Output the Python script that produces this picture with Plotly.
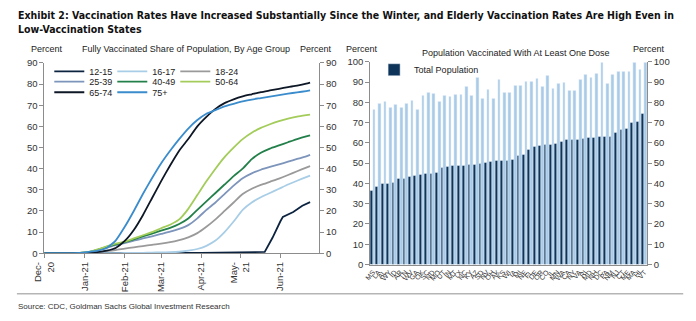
import plotly.graph_objects as go

# ---------------- Left chart data ----------------
dates = ["2020-12-01", "2020-12-14", "2020-12-21", "2020-12-28",
         "2021-01-04", "2021-01-11", "2021-01-18", "2021-01-25",
         "2021-02-01", "2021-02-08", "2021-02-15", "2021-02-22",
         "2021-03-01", "2021-03-08", "2021-03-15", "2021-03-22", "2021-03-29",
         "2021-04-05", "2021-04-12", "2021-04-19", "2021-04-26",
         "2021-05-03", "2021-05-10", "2021-05-17", "2021-05-24", "2021-05-31",
         "2021-06-07", "2021-06-14", "2021-06-21", "2021-06-24"]

age_16_17 = [0, 0, 0, 0, 0, 0, 0, 0, 0.1, 0.1, 0.2, 0.3, 0.4, 0.5, 0.7, 1.2, 2,
             3.5, 6, 10, 15, 20.5, 24, 26.5, 28.5, 30.5, 32.5, 34.3, 36, 36.7]
age_18_24 = [0, 0, 0, 0, 0.2, 0.6, 1, 1.5, 2.2, 2.8, 3.4, 4, 4.5, 5.2, 6.2, 7.5, 9.5,
             12.5, 16, 20, 24, 28, 30.5, 32.3, 33.8, 35.3, 37, 38.8, 40.5, 41.2]
age_25_39 = [0, 0, 0, 0.1, 0.5, 1.4, 2.6, 3.8, 4.8, 6, 7, 8, 9.1, 10.2, 11.5, 13.3, 16.5,
             20.5, 24, 28, 32, 35.5, 37.8, 39.5, 40.8, 42, 43.3, 44.6, 45.8, 46.5]
age_40_49 = [0, 0, 0, 0.1, 0.5, 1.6, 3, 4.2, 5.2, 6.5, 8, 9.3, 10.7, 12, 13.8, 16.4, 20.5,
             24.5, 28.5, 32.5, 36.5, 40, 44.5, 47.5, 49.5, 51, 52.5, 54, 55.3, 55.8]
age_50_64 = [0, 0, 0, 0.1, 0.6, 1.8, 3.2, 4.5, 5.5, 7, 8.5, 10, 11.8, 13.5, 16, 21, 27.5,
             34, 40, 45.5, 50, 54, 57, 59.3, 61, 62.5, 63.7, 64.6, 65.3, 65.6]
age_65_74 = [0, 0, 0, 0, 0.1, 0.5, 1.2, 2.5, 5.8, 11, 18, 26, 34, 41.5, 48.5, 54, 60,
             64.5, 68.3, 71, 72.8, 74.2, 75.2, 76.2, 77, 77.8, 78.6, 79.3, 80.2, 80.7]
age_75_plus = [0, 0, 0, 0.1, 0.6, 1.2, 2.5, 6, 12.5, 20, 28, 35.5, 42.5, 48.5, 54, 59, 63,
               66, 67.7, 69.5, 70.7, 71.8, 72.7, 73.4, 74.1, 74.8, 75.5, 76.1, 76.7, 77]

dates_12_15 = ["2020-12-01", "2021-04-01", "2021-05-20", "2021-05-26", "2021-06-01",
               "2021-06-03", "2021-06-11", "2021-06-18", "2021-06-24"]
age_12_15 = [0, 0.1, 0.6, 7.3, 15, 17.2, 19.5, 22.5, 24.2]

month_ticks = ["2020-12-01", "2021-01-01", "2021-02-01", "2021-03-01",
               "2021-04-01", "2021-05-01", "2021-06-01"]
month_labels = ["Dec-<br>20", "Jan-21", "Feb-21", "Mar-21", "Apr-21", "May-<br>21", "Jun-21"]

# ---------------- Right chart data ----------------
states = ["MS", "LA", "AL", "WY", "ID", "AR", "TN", "WV", "GA", "OK", "SC", "ND", "MO",
          "UT", "IN", "MT", "TX", "NC", "KY", "AZ", "SD", "NV", "OH", "AK", "KS", "WI",
          "IA", "MI", "NE", "FL", "DE", "OR", "CO", "IL", "MN", "WA", "CA", "NY", "VA",
          "RI", "MD", "NH", "DC", "PA", "NM", "NJ", "CT", "ME", "MA", "HI", "VT"]
elderly = [76.2, 79.4, 80.5, 77.5, 78.9, 77.5, 79.4, 81, 76.2, 83, 84.6, 84.1, 80.5,
           83, 82.5, 83.5, 83.5, 87.6, 83.3, 91.9, 81.7, 86, 81.9, 91.3, 84.8, 84.6,
           88.4, 88.1, 90.2, 90, 91.6, 87.6, 93.2, 86.5, 89, 89.8, 85.7, 85.7, 91.3,
           93.7, 92.1, 94.1, 99.7, 89.4, 93.7, 95.2, 94.9, 94.9, 99.7, 96.2, 99.7]
total_pop = [36.2, 38.3, 39.7, 39.7, 40.2, 42.2, 42.2, 43.3, 43.7, 44.1, 44.6, 44.9, 45.2,
             47.8, 48.1, 48.6, 48.6, 48.9, 49.2, 49.4, 49.7, 50.2, 50.5, 51, 51.3, 51.3,
             51.7, 53.7, 54.1, 56.8, 57.9, 58.4, 58.9, 59.2, 59.7, 60.5, 61.4, 61.6, 61.7,
             61.9, 62.4, 62.7, 62.9, 63.2, 63.2, 64.8, 66.3, 67.1, 69.8, 70.6, 74.3]

FONT = "Liberation Sans, Arial, sans-serif"
NARROW = "Liberation Sans Narrow, DejaVu Sans Condensed, Arial Narrow, sans-serif"
W, H = 696, 321


def px(x):
    return x / W


def py(y):
    return 1 - y / H


fig = go.Figure()

line_series = [
    ("12-15", dates_12_15, age_12_15, "#0c2340", "legend"),
    ("16-17", dates, age_16_17, "#a8cde6", "legend"),
    ("18-24", dates, age_18_24, "#9a9a9a", "legend"),
    ("25-39", dates, age_25_39, "#7d94bb", "legend2"),
    ("40-49", dates, age_40_49, "#23804a", "legend2"),
    ("50-64", dates, age_50_64, "#a3cc5a", "legend2"),
    ("65-74", dates, age_65_74, "#0d1726", "legend3"),
    ("75+", dates, age_75_plus, "#3a8ccc", "legend3"),
]
for name, xs, ys, col, lg in line_series:
    fig.add_trace(go.Scatter(
        x=xs, y=ys, name=name, mode="lines",
        line=dict(color=col, width=1.8, shape="linear" if name == "12-15" else "spline",
                  smoothing=0.5),
        legend=lg, xaxis="x", yaxis="y"))

# invisible trace so the mirrored right axis is drawn
fig.add_trace(go.Scatter(x=[dates[0]], y=[age_16_17[0]], xaxis="x", yaxis="y3",
                         mode="markers", marker=dict(opacity=0), showlegend=False,
                         hoverinfo="skip"))

fig.add_trace(go.Bar(x=states, y=total_pop, name="Total Population",
                     marker_color="#0e3559", legend="legend4",
                     xaxis="x2", yaxis="y2"))
fig.add_trace(go.Bar(x=states, y=elderly, name="Elderly", marker_color="#a9cbe8",
                     showlegend=False, xaxis="x2", yaxis="y2"))
fig.add_trace(go.Scatter(x=[states[0]], y=[0], xaxis="x2", yaxis="y4",
                         mode="markers", marker=dict(opacity=0), showlegend=False,
                         hoverinfo="skip"))

axis_common = dict(showgrid=False, zeroline=False, showline=True, linecolor="#8c8c8c",
                   linewidth=1, ticks="outside", ticklen=4, tickcolor="#8c8c8c",
                   tickfont=dict(family=FONT, size=9.5, color="#333"))

left_dom_x = [px(33), px(313)]
left_dom_y = [py(256), py(59)]
right_dom_x = [px(365), px(647)]
right_dom_y = [py(267.7), py(57.7)]

fig.update_layout(
    width=W, height=H, margin=dict(l=0, r=0, t=0, b=0),
    paper_bgcolor="white", plot_bgcolor="white", barmode="group",
    bargap=0, bargroupgap=0,
    showlegend=True,
    xaxis=dict(axis_common, domain=left_dom_x, anchor="y", type="date",
               range=["2020-12-01", "2021-07-01"], tickvals=month_ticks,
               ticktext=month_labels, tickangle=-90),
    yaxis=dict(axis_common, domain=left_dom_y, anchor="x", range=[0, 90],
               tickvals=list(range(0, 91, 10))),
    yaxis3=dict(axis_common, overlaying="y", side="right", anchor="x", range=[0, 90],
                tickvals=list(range(0, 91, 10))),
    xaxis2=dict(axis_common, domain=right_dom_x, anchor="y2", type="category",
                range=[-0.5, len(states) - 0.5], ticks="", tickangle=-50, dtick=1,
                tickfont=dict(family=FONT, size=7, color="#333")),
    yaxis2=dict(axis_common, domain=right_dom_y, anchor="x2", range=[0, 100],
                tickvals=list(range(0, 101, 10))),
    yaxis4=dict(axis_common, overlaying="y2", side="right", anchor="x2", range=[0, 100],
                tickvals=list(range(0, 101, 10))),
)

leg_common = dict(orientation="h", xanchor="left", yanchor="middle",
                  font=dict(family=FONT, size=9, color="#222"), bgcolor="rgba(0,0,0,0)",
                  itemwidth=30, entrywidth=18, entrywidthmode="pixels", tracegroupgap=0,
                  itemclick=False)
fig.update_layout(
    legend=dict(leg_common, x=px(38), y=py(67.7)),
    legend2=dict(leg_common, x=px(38), y=py(78.3)),
    legend3=dict(leg_common, x=px(38), y=py(89.3)),
    legend4=dict(leg_common, x=px(369), y=py(66), entrywidth=90),
)

ann = []
ann.append(dict(text="<b>Exhibit 2: Vaccination Rates Have Increased Substantially Since the Winter, "
                     "and Elderly Vaccination Rates Are High Even in</b>",
                x=px(4), y=py(9), xanchor="left", yanchor="middle",
                font=dict(family=NARROW, size=10.5, color="#111")))
ann.append(dict(text="<b>Low-Vaccination States</b>", x=px(4), y=py(24), xanchor="left",
                yanchor="middle", font=dict(family=NARROW, size=10.5, color="#111")))
for t, x in [("Percent", 36), ("Percent", 310), ("Percent", 357), ("Percent", 649)]:
    ann.append(dict(text=t, x=px(x), y=py(45), xanchor="center", yanchor="middle",
                    font=dict(family=FONT, size=9, color="#222")))
ann.append(dict(text="Fully Vaccinated Share of Population, By Age Group", x=px(177),
                y=py(45), xanchor="center", yanchor="middle",
                font=dict(family=FONT, size=9, color="#222")))
ann.append(dict(text="Population Vaccinated With At Least One Dose", x=px(513),
                y=py(49), xanchor="center", yanchor="middle",
                font=dict(family=FONT, size=9, color="#222")))
ann.append(dict(text="Source: CDC, Goldman Sachs Global Investment Research", x=px(4),
                y=py(311), xanchor="left", yanchor="middle",
                font=dict(family=FONT, size=8, color="#333")))
for a in ann:
    a.update(xref="paper", yref="paper", showarrow=False)
fig.update_layout(annotations=ann)

fig.add_shape(type="line", xref="paper", yref="paper", x0=px(5), x1=px(684),
              y0=py(298), y1=py(298), line=dict(color="#b5b5b5", width=1.5))

fig.write_html("out.html")
